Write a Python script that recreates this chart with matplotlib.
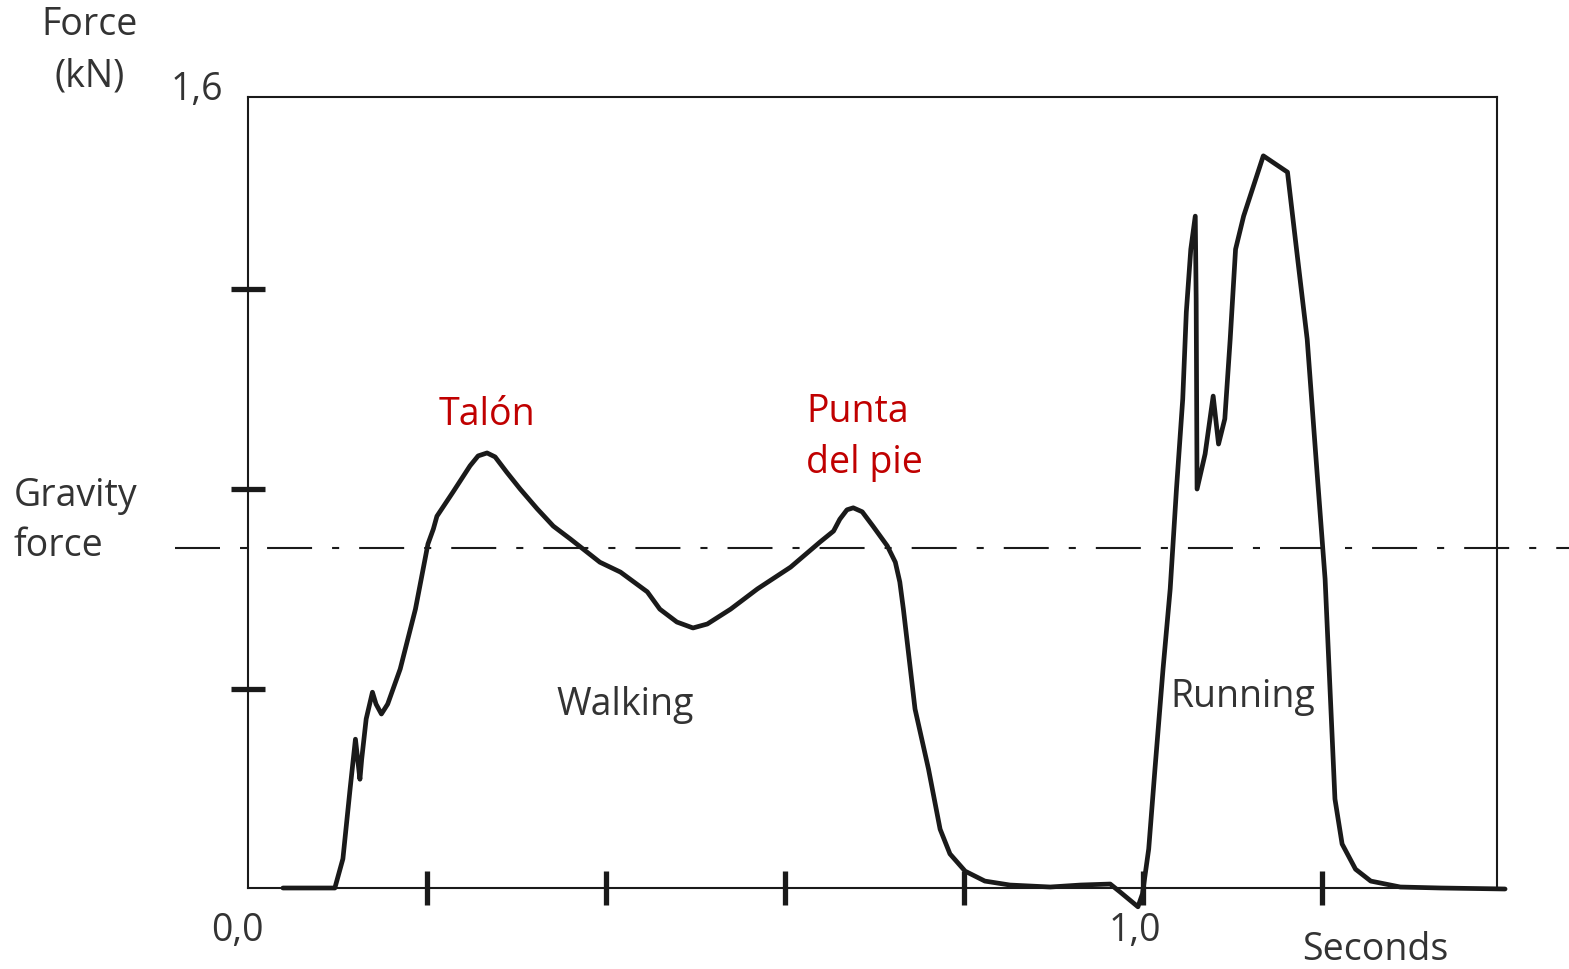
import numpy as np
import matplotlib
matplotlib.use("Agg")
import matplotlib.pyplot as plt

plt.rcParams['font.family'] = ['Open Sans', 'DejaVu Sans']

# curva de fuerza (segundos, kN) - caminando
walk_t = [0.039, 0.097, 0.106, 0.114, 0.120, 0.125, 0.127, 0.132, 0.139, 0.143,
          0.149, 0.156, 0.170, 0.187, 0.201, 0.207, 0.211, 0.229, 0.248, 0.257,
          0.267, 0.276, 0.289, 0.304, 0.323, 0.341, 0.360, 0.393, 0.416, 0.446,
          0.460, 0.479, 0.497, 0.513, 0.539, 0.569, 0.606, 0.639, 0.654, 0.661,
          0.669, 0.676, 0.686, 0.698, 0.714, 0.723, 0.728, 0.732, 0.745, 0.760,
          0.773, 0.784, 0.801, 0.823, 0.851, 0.896, 0.930, 0.963, 0.974, 0.994]
walk_f = [0.000, 0.000, 0.059, 0.200, 0.301, 0.220, 0.261, 0.342, 0.396, 0.372,
          0.352, 0.372, 0.443, 0.564, 0.696, 0.726, 0.752, 0.801, 0.854, 0.874,
          0.880, 0.872, 0.841, 0.807, 0.767, 0.732, 0.706, 0.659, 0.639, 0.599,
          0.564, 0.538, 0.526, 0.534, 0.564, 0.605, 0.649, 0.700, 0.722, 0.746,
          0.765, 0.769, 0.761, 0.732, 0.692, 0.659, 0.619, 0.564, 0.362, 0.241,
          0.119, 0.069, 0.034, 0.014, 0.006, 0.002, 0.006, 0.008, -0.008, -0.038]

# corriendo
run_t = [0.999, 1.006, 1.013, 1.022, 1.030, 1.037, 1.044, 1.048, 1.053, 1.058,
         1.059, 1.060, 1.069, 1.078, 1.084, 1.091, 1.097, 1.103, 1.112, 1.134,
         1.161, 1.172, 1.183, 1.194, 1.203, 1.209, 1.214, 1.222, 1.237, 1.254,
         1.287, 1.332, 1.404]
run_f = [-0.012, 0.079, 0.241, 0.443, 0.605, 0.807, 0.989, 1.165, 1.292, 1.359,
         1.191, 0.807, 0.878, 0.995, 0.898, 0.949, 1.110, 1.292, 1.359, 1.481,
         1.448, 1.278, 1.110, 0.841, 0.625, 0.382, 0.180, 0.089, 0.038, 0.014,
         0.002, 0.000, -0.002]

gravity = 0.688
ytick_vals = [0.402, 0.808, 1.211]
xtick_vals = [0.2, 0.4, 0.6, 0.8, 1.0, 1.2]

W, H = 1569, 970
fig = plt.figure(figsize=(W / 100, H / 100), dpi=100)
ax = fig.add_axes([248 / W, 1 - 889 / H, (1497 - 248) / W, (889 - 98) / H])

ax.plot(walk_t + run_t, walk_f + run_f, color='#1a1a1a', lw=3.4,
        solid_joinstyle='round', solid_capstyle='round', clip_on=False, zorder=3)
# linea de gravedad (raya-punto)
ax.plot([-0.082, 1.475], [gravity, gravity], color='#1a1a1a', lw=1.5,
        dashes=(21.6, 9.6, 3.4, 9.6), clip_on=False)

ax.set_xlim(0, 1.395)
ax.set_ylim(0, 1.6)
for s in ax.spines.values():
    s.set_linewidth(1.5)
    s.set_color('#1a1a1a')
ax.set_xticks(xtick_vals)
ax.set_yticks(ytick_vals)
ax.set_xticklabels([])
ax.set_yticklabels([])
ax.tick_params(direction='inout', length=25, width=3.8, color='#1a1a1a')

txt = '#333333'
red = '#c00000'
fs = 27


def ftext(x, y, s, **kw):
    fig.text(x / W, 1 - y / H, s, fontsize=kw.pop('fontsize', fs), color=kw.pop('color', txt),
             va='center', **kw)


ftext(90, 25, 'Force', ha='center')
ftext(90, 77, '(kN)', ha='center')
ftext(197, 90, '1,6', ha='center')
ftext(14, 496, 'Gravity', ha='left')
ftext(14, 546, 'force', ha='left')
ftext(237, 931, '0,0', ha='center')
ftext(1135, 931, '1,0', ha='center')
ftext(1375, 950, 'Seconds', ha='center')

ftext(487, 415, 'Talón', ha='center', color=red, fontweight='medium')
ftext(806, 412, 'Punta', ha='left', color=red, fontweight='medium')
ftext(806, 463, 'del pie', ha='left', color=red, fontweight='medium')
ftext(625, 705, 'Walking', ha='center')
ftext(1243, 697, 'Running', ha='center')

fig.savefig('out.png', dpi=100)
